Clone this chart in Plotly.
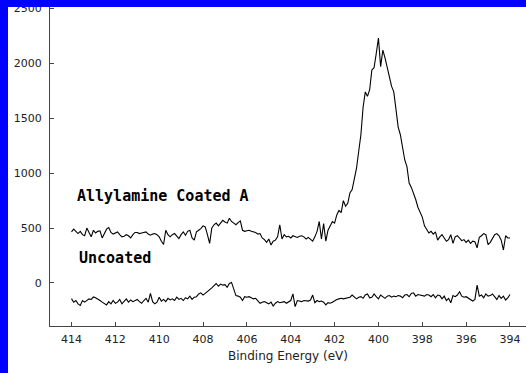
import plotly.graph_objects as go

# Allylamine coated sample counts, binding energy 414.0 -> 394.0 eV in 0.1 eV steps
allylamine = [
    465, 490, 470, 450, 470, 440, 430, 500, 460, 420,
    480, 455, 470, 475, 410, 450, 490, 505, 460, 445,
    455, 465, 440, 420, 425, 440, 430, 410, 440, 460,
    460, 450, 455, 460, 465, 445, 435, 445, 450, 440,
    420, 380, 350, 480, 440, 420, 440, 450, 425, 405,
    440, 465, 435, 470, 480, 410, 390, 465, 480, 495,
    520, 510, 440, 360, 500, 530, 545, 520, 545, 570,
    555, 545, 590, 560, 545, 530, 550, 565, 480, 470,
    475, 480, 470, 465, 460, 445, 450, 410, 395, 370,
    400, 345, 380, 390, 420, 530, 400, 440, 420, 425,
    410, 430, 420, 415, 425, 430, 420, 400, 415, 395,
    380, 420, 470, 560, 400, 540, 380, 480, 520, 560,
    545, 620, 660, 640, 750, 700, 725, 820, 850, 960,
    1045, 1200, 1350, 1600, 1740, 1700, 1760, 1940, 1960, 2090,
    2230, 1970, 2120, 2050, 1960, 1880, 1790, 1740, 1600, 1420,
    1350, 1250, 1120, 1060, 910, 870, 820, 760, 690, 640,
    600, 520, 480, 455, 470, 445, 465, 390, 420, 440,
    410, 380, 395, 440, 360, 420, 430, 410, 385, 395,
    370, 390, 360, 380, 375, 320, 415, 430, 450, 440,
    350, 370, 410, 440, 450, 430, 390, 300, 430, 410,
    410,
]

# Uncoated sample counts (offset), same energies
uncoated = [
    -143, -175, -160, -190, -205, -160, -175, -158, -145, -150,
    -128, -135, -145, -160, -175, -190, -200, -170, -190, -160,
    -185, -175, -150, -190, -170, -145, -175, -155, -170, -160,
    -150, -170, -185, -160, -140, -175, -95, -170, -190, -175,
    -130, -165, -150, -170, -140, -155, -145, -160, -130, -150,
    -140, -160, -135, -145, -120, -150, -130, -125, -100, -90,
    -110, -95, -80, -60, -45, -25, -5, -30, -10, -20,
    -15, -40, -5, 5, -60, -115, -120, -130, -160, -125,
    -130, -125, -135, -145, -140, -160, -185, -175, -170, -180,
    -190, -175, -210, -185, -170, -180, -175, -170, -185, -170,
    -160, -100, -215, -160, -165, -170, -160, -160, -165, -155,
    -110, -180, -160, -170, -165, -175, -200, -180, -185, -175,
    -160, -150, -145, -140, -145, -140, -135, -130, -110, -130,
    -145, -130, -125, -140, -110, -100, -135, -130, -100, -125,
    -145, -110, -125, -140, -120, -115, -130, -120, -125, -115,
    -120, -135, -110, -105, -125, -95, -90, -120, -105, -110,
    -115, -120, -105, -110, -125, -105, -135, -110, -115, -145,
    -120, -160, -140, -180, -115, -125, -110, -80, -120, -130,
    -125, -140, -155, -165, -150, -20, -120, -110, -135, -100,
    -120, -115, -100, -130, -150, -115, -140, -120, -155, -135,
    -105,
]

energy = [round(414.0 - 0.1 * i, 1) for i in range(len(allylamine))]

x_ticks = [414, 412, 410, 408, 406, 404, 402, 400, 398, 396, 394]
y_ticks = [0, 500, 1000, 1500, 2000, 2500]
labels = ["Allylamine Coated A", "Uncoated"]
label_pos = [(413.82, 792), (413.73, 230)]

W, H = 526, 373
ML, MR, MT, MB = 50, 0, 0, 47
PW, PH = W - ML - MR, H - MT - MB

fig = go.Figure()
for ys in (allylamine, uncoated):
    fig.add_trace(go.Scatter(x=energy, y=ys, mode="lines",
                             line=dict(color="black", width=1.1),
                             hoverinfo="skip", showlegend=False))

for txt, (lx, ly) in zip(labels, label_pos):
    fig.add_annotation(x=lx, y=ly, xref="x", yref="y", text="<b>%s</b>" % txt,
                       showarrow=False, xanchor="left", yanchor="middle",
                       font=dict(family="DejaVu Sans Mono", size=15, color="black"))

def px_x(p):
    return (p - ML) / PW

def px_y(p):
    return (H - MB - p) / PH

blue = "#0000FF"
fig.add_shape(type="rect", xref="paper", yref="paper", layer="above",
              x0=px_x(-2), x1=px_x(8), y0=px_y(H + 2), y1=px_y(-2),
              fillcolor=blue, line=dict(width=0))
fig.add_shape(type="rect", xref="paper", yref="paper", layer="above",
              x0=px_x(-2), x1=px_x(W + 2), y0=px_y(7), y1=px_y(-2),
              fillcolor=blue, line=dict(width=0))

axis_common = dict(showline=True, linecolor="#444", linewidth=1, mirror=False,
                   ticks="inside", ticklen=4, tickcolor="#444", tickwidth=1,
                   showgrid=False, zeroline=False,
                   tickfont=dict(family="DejaVu Sans", size=11, color="#222"))

fig.update_layout(
    width=W, height=H,
    margin=dict(l=ML, r=MR, t=MT, b=MB),
    paper_bgcolor="white", plot_bgcolor="white",
    xaxis=dict(range=[414.98, 393.27], tickvals=x_ticks,
               ticktext=[str(v) for v in x_ticks],
               ticklabelstandoff=3,
               title=dict(text="Binding Energy (eV)", standoff=6,
                          font=dict(family="DejaVu Sans", size=12, color="#222")),
               **axis_common),
    yaxis=dict(range=[-392, 2577], tickvals=y_ticks,
               ticktext=[str(v) for v in y_ticks],
               ticklabelstandoff=5,
               **axis_common),
)

fig.write_html("out.html")
